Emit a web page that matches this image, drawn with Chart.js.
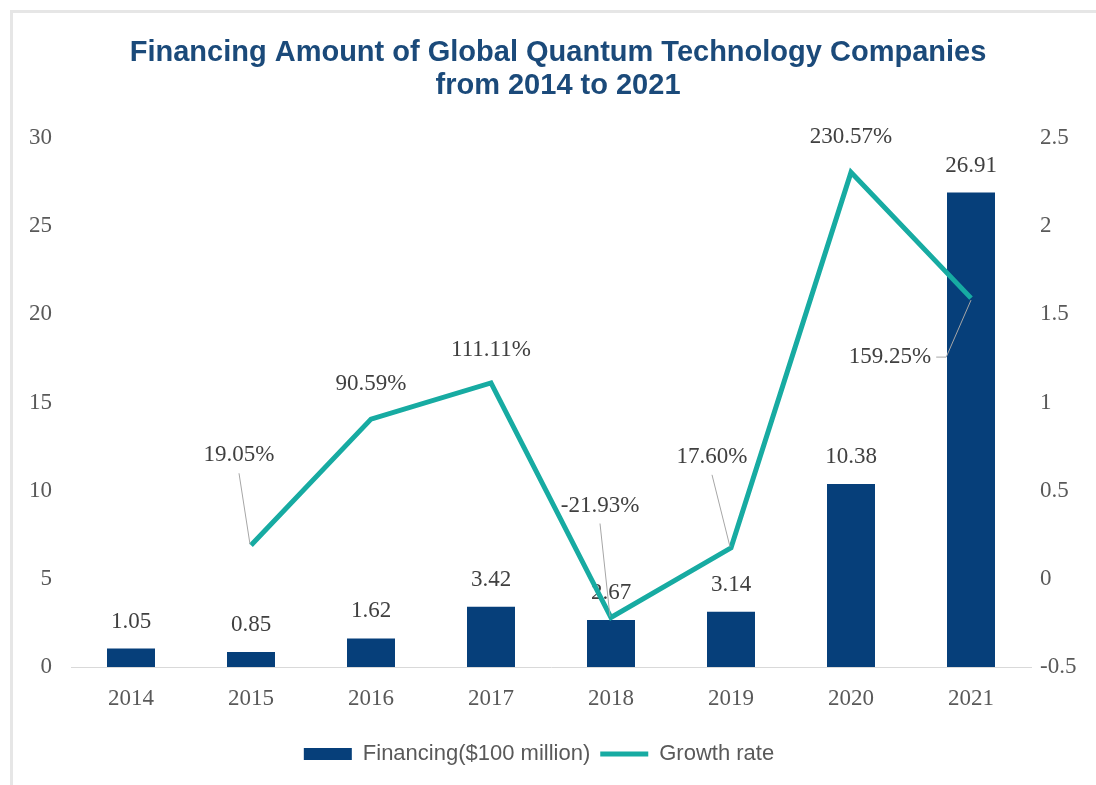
<!DOCTYPE html>
<html>
<head>
<meta charset="utf-8">
<script src="https://cdn.jsdelivr.net/npm/chart.js@4/dist/chart.umd.min.js"></script>
<style>
  html, body { margin: 0; padding: 0; background: #fff; }
  #frame {
    position: absolute; left: 10px; top: 10px; width: 1200px; height: 900px;
    border-top: 3px solid #e6e6e6; border-left: 3px solid #e6e6e6;
  }
  #wrap { position: absolute; left: 0; top: 0; width: 1096px; height: 785px; }
</style>
</head>
<body>
<div id="frame"></div>
<div id="wrap"><canvas id="quantumChart" width="1096" height="785"></canvas></div>
<script>
// Financing amount of global quantum technology companies, 2014-2021

const years = ["2014", "2015", "2016", "2017", "2018", "2019", "2020", "2021"];

// $100 million
const financing = [1.05, 0.85, 1.62, 3.42, 2.67, 3.14, 10.38, 26.91];

// year-on-year growth (1 = 100%)
const growth = [null, 0.1905, 0.9059, 1.1111, -0.2193, 0.1760, 2.3057, 1.5925];

const growthLabels = [null, "19.05%", "90.59%", "111.11%", "-21.93%", "17.60%", "230.57%", "159.25%"];

const leftTicks = [0, 5, 10, 15, 20, 25, 30];
const rightTicks = [-0.5, 0, 0.5, 1, 1.5, 2, 2.5];

// where each growth label sits relative to its point (px), and leader style
const growthLabelPos = [
	null,
	{ dx: -12, dy: -90, leader: "straight" },
	{ dx: 0, dy: -35 },
	{ dx: 0, dy: -33 },
	{ dx: -11, dy: -112, leader: "straight" },
	{ dx: -19, dy: -91, leader: "straight" },
	{ dx: 0, dy: -35 },
	{ dx: -81, dy: 59, leader: "elbow" },
];

const NAVY = "#063f7a";
const TEAL = "#17aba2";
const SERIF = "'Liberation Serif', 'Times New Roman', serif";
const SANS = "'Liberation Sans', Arial, sans-serif";
const LABEL_FONT = "23px " + SERIF;

const barLabels = {
	id: "barLabels",
	beforeDatasetsDraw(chart) {
		const ctx = chart.ctx;
		const meta = chart.getDatasetMeta(0);
		ctx.save();
		ctx.font = LABEL_FONT;
		ctx.fillStyle = "#404040";
		ctx.textAlign = "center";
		ctx.textBaseline = "middle";
		meta.data.forEach((bar, i) => {
			ctx.fillText(financing[i].toFixed(2), bar.x, bar.y - 27);
		});
		ctx.restore();
	},
};

const lineLabels = {
	id: "lineLabels",
	afterDatasetsDraw(chart) {
		const ctx = chart.ctx;
		const meta = chart.getDatasetMeta(1);
		ctx.save();
		ctx.font = LABEL_FONT;
		meta.data.forEach((pt, i) => {
			const pos = growthLabelPos[i];
			if (!pos || growth[i] === null) return;
			const lx = pt.x + pos.dx;
			const ly = pt.y + pos.dy;
			ctx.strokeStyle = "#a6a6a6";
			ctx.lineWidth = 1;
			if (pos.leader === "straight") {
				ctx.beginPath();
				ctx.moveTo(lx, ly + 18);
				ctx.lineTo(pt.x - 1, pt.y - 1);
				ctx.stroke();
			} else if (pos.leader === "elbow") {
				const w = ctx.measureText(growthLabels[i]).width;
				ctx.beginPath();
				ctx.moveTo(lx + w / 2 + 5, ly);
				ctx.lineTo(lx + w / 2 + 15, ly);
				ctx.lineTo(pt.x, pt.y + 2);
				ctx.stroke();
			}
			ctx.fillStyle = "#404040";
			ctx.textAlign = "center";
			ctx.textBaseline = "middle";
			ctx.fillText(growthLabels[i], lx, ly);
		});
		ctx.restore();
	},
};

// the title sits a little right of centre, the legend a little left
const nudgeBlocks = {
	id: "nudgeBlocks",
	afterLayout(chart) {
		if (chart.titleBlock) chart.titleBlock.left += 20;
		if (chart.legend) {
			chart.legend.left -= 9;
			chart.legend.right -= 9;
		}
	},
};

const data = {
	labels: years,
	datasets: [
		{
			type: "bar",
			label: "Financing($100 million)",
			data: financing,
			backgroundColor: NAVY,
			yAxisID: "y",
			categoryPercentage: 1,
			barPercentage: 0.4,
			order: 1,
		},
		{
			type: "line",
			label: "Growth rate",
			data: growth,
			borderColor: TEAL,
			backgroundColor: TEAL,
			borderWidth: 5,
			pointRadius: 0,
			tension: 0,
			yAxisID: "y1",
			order: 0,
		},
	],
};

const config = {
	type: "bar",
	data: data,
	options: {
		responsive: false,
		animation: false,
		layout: { padding: { left: 0, right: 0, top: 0, bottom: 10 } },
		plugins: {
			tooltip: { enabled: false },
			title: {
				display: true,
				text: ["Financing Amount of Global Quantum Technology Companies", "from 2014 to 2021"],
				color: "#1b4a7a",
				font: { family: SANS, size: 29, weight: "bold", lineHeight: 1.14 },
				padding: { top: 36, bottom: 36 },
			},
			legend: {
				position: "bottom",
				labels: {
					color: "#595959",
					font: { family: SANS, size: 22 },
					usePointStyle: true,
					pointStyleWidth: 48,
					boxHeight: 12,
					padding: 10,
					generateLabels() {
						return [
							{ text: "Financing($100 million)", pointStyle: "rect", fillStyle: NAVY, strokeStyle: NAVY, lineWidth: 0, fontColor: "#595959", datasetIndex: 0 },
							{ text: "Growth rate", pointStyle: "line", fillStyle: TEAL, strokeStyle: TEAL, lineWidth: 5, fontColor: "#595959", datasetIndex: 1 },
						];
					},
				},
			},
		},
		scales: {
			x: {
				offset: true,
				grid: { display: false, drawTicks: false },
				border: { display: true, color: "#d9d9d9", width: 1 },
				ticks: { color: "#595959", font: { family: SERIF, size: 23 }, padding: 18 },
				afterFit(s) { s.height = 66; },
			},
			y: {
				position: "left",
				min: 0,
				max: 30,
				afterBuildTicks(s) { s.ticks = leftTicks.map(v => ({ value: v })); },
				grid: { display: false, drawTicks: false },
				border: { display: false },
				ticks: { color: "#595959", font: { family: SERIF, size: 23 }, padding: 19, callback: v => String(v) },
				afterFit(s) { s.width = 71; },
			},
			y1: {
				position: "right",
				min: -0.5,
				max: 2.5,
				afterBuildTicks(s) { s.ticks = rightTicks.map(v => ({ value: v })); },
				grid: { display: false, drawTicks: false },
				border: { display: false },
				ticks: { color: "#595959", font: { family: SERIF, size: 23 }, padding: 9, callback: v => String(v) },
				afterFit(s) { s.width = 65; },
			},
		},
	},
	plugins: [barLabels, lineLabels, nudgeBlocks],
};

const quantumChart = new Chart(
	document.getElementById("quantumChart"),
	config
);
</script>
</body>
</html>
